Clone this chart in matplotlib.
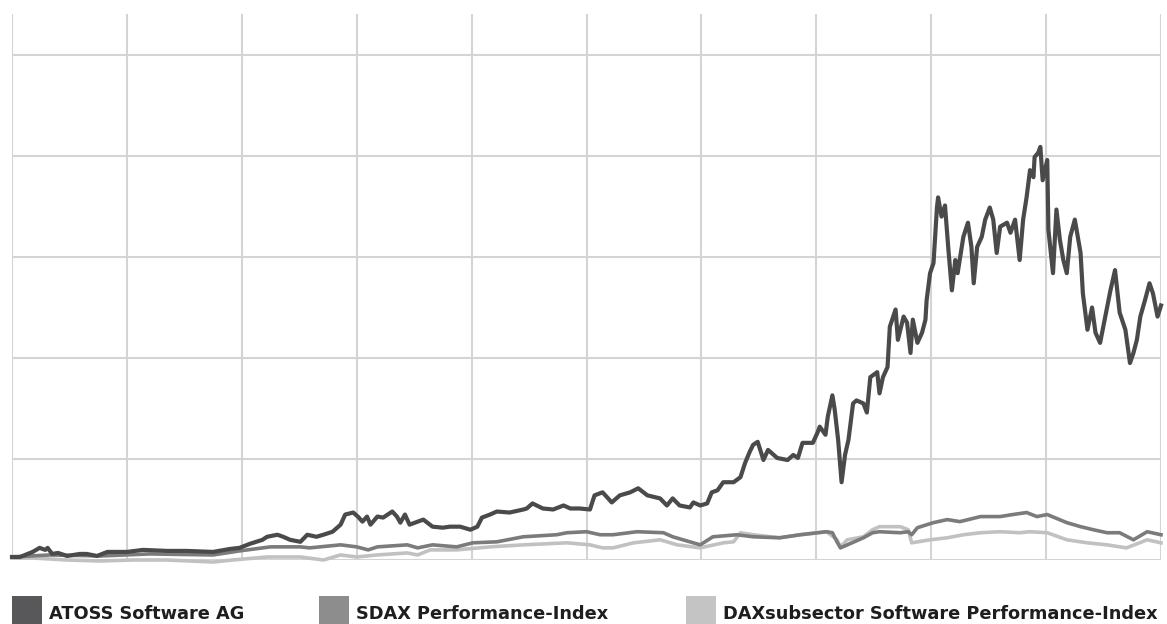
#!/usr/bin/env python3

"""Share price performance of ATOSS vs. SDAX and DAXsubsector Software."""

import matplotlib as mpl

mpl.use("Agg")

import matplotlib.pyplot as plt
from matplotlib.patches import Rectangle

# Years since start of the period, relative performance (index points)
atoss_t = [
    0.00, 0.07, 0.18, 0.24, 0.29, 0.31, 0.35, 0.40, 0.48, 0.59, 0.65, 0.74,
    0.83, 1.00, 1.14, 1.35, 1.52, 1.75, 1.90, 1.98, 2.07, 2.18, 2.22, 2.31,
    2.36, 2.42, 2.51, 2.57, 2.65, 2.71, 2.79, 2.86, 2.90, 2.97, 3.01, 3.05,
    3.09, 3.12, 3.18, 3.23, 3.31, 3.35, 3.38, 3.42, 3.46, 3.58, 3.66, 3.75,
    3.81, 3.90, 3.99, 4.05, 4.09, 4.16, 4.22, 4.33, 4.45, 4.48, 4.53, 4.62,
    4.71, 4.80, 4.86, 4.94, 5.03, 5.07, 5.14, 5.22, 5.29, 5.38, 5.45, 5.53,
    5.64, 5.70, 5.75, 5.81, 5.90, 5.93, 5.99, 6.05, 6.09, 6.14, 6.19, 6.28,
    6.34, 6.38, 6.42, 6.45, 6.49, 6.54, 6.58, 6.66, 6.75, 6.80, 6.84, 6.88,
    6.97, 7.01, 7.03, 7.08, 7.10, 7.14, 7.16, 7.19, 7.22, 7.25, 7.28, 7.32,
    7.35, 7.41, 7.44, 7.47, 7.53, 7.55, 7.58, 7.62, 7.64, 7.69, 7.71, 7.76,
    7.79, 7.82, 7.84, 7.88, 7.92, 7.95, 7.96, 7.99, 8.02, 8.05, 8.06, 8.09,
    8.12, 8.15, 8.18, 8.21, 8.23, 8.28, 8.32, 8.35, 8.37, 8.40, 8.44, 8.47,
    8.51, 8.54, 8.57, 8.60, 8.66, 8.69, 8.73, 8.77, 8.80, 8.83, 8.86, 8.89,
    8.90, 8.93, 8.95, 8.97, 9.01, 9.02, 9.06, 9.09, 9.12, 9.15, 9.18, 9.21,
    9.25, 9.30, 9.32, 9.36, 9.40, 9.43, 9.47, 9.51, 9.56, 9.60, 9.64, 9.69,
    9.73, 9.76, 9.79, 9.82, 9.86, 9.90, 9.93, 9.97, 10.0,
]
atoss_v = [
    3, 3, 8, 12, 10, 12, 6, 7, 4, 6, 6, 4,
    8, 8, 10, 9, 9, 8, 11, 12, 16, 20, 23, 25,
    23, 20, 18, 25, 23, 25, 28, 35, 45, 47, 43, 38,
    43, 35, 43, 42, 48, 43, 37, 45, 35, 40, 33, 32,
    33, 33, 30, 33, 42, 45, 48, 47, 50, 51, 56, 51,
    50, 54, 51, 51, 50, 64, 67, 57, 64, 67, 71, 64,
    61, 54, 61, 54, 52, 57, 54, 56, 67, 69, 77, 77,
    82, 96, 107, 114, 117, 99, 109, 101, 99, 104, 101, 116,
    116, 126, 132, 124, 142, 163, 149, 119, 77, 104, 119, 155,
    158, 155, 146, 181, 186, 165, 181, 191, 231, 248, 218, 241,
    235, 205, 238, 215, 225, 238, 257, 284, 294, 349, 359, 340,
    351, 307, 267, 297, 284, 320, 334, 310, 274, 310, 320, 337,
    349, 337, 304, 330, 334, 324, 337, 297, 337, 359, 386, 379,
    399, 403, 409, 376, 396, 327, 284, 347, 317, 297, 284, 320,
    337, 304, 264, 228, 250, 225, 215, 238, 267, 287, 245, 228,
    195, 205, 218, 241, 257, 274, 264, 241, 252,
]

sdax_t = [
    0.00, 0.33, 0.77, 1.20, 1.75, 1.98, 2.25, 2.51, 2.59, 2.86, 3.00, 3.10,
    3.18, 3.44, 3.53, 3.66, 3.87, 4.01, 4.22, 4.45, 4.74, 4.83, 5.00, 5.12,
    5.23, 5.44, 5.67, 5.75, 5.90, 5.99, 6.10, 6.31, 6.45, 6.68, 6.86, 7.09,
    7.14, 7.18, 7.21, 7.27, 7.41, 7.49, 7.55, 7.73, 7.80, 7.83, 7.88, 8.02,
    8.14, 8.25, 8.43, 8.60, 8.71, 8.83, 8.92, 9.01, 9.18, 9.30, 9.41, 9.53,
    9.64, 9.76, 9.88, 10.0,
]
sdax_v = [
    3, 5, 4, 6, 5, 9, 13, 13, 12, 15, 13, 10,
    13, 15, 12, 15, 13, 17, 18, 23, 25, 27, 28, 25,
    25, 28, 27, 23, 18, 15, 23, 25, 23, 22, 25, 28,
    27, 18, 12, 15, 22, 27, 28, 27, 28, 25, 32, 37,
    40, 38, 43, 43, 45, 47, 43, 45, 37, 33, 30, 27,
    27, 20, 28, 25,
]

software_t = [
    0.00, 0.18, 0.48, 0.77, 1.05, 1.35, 1.75, 1.92, 2.22, 2.51, 2.71, 2.86,
    3.00, 3.18, 3.44, 3.53, 3.64, 3.87, 4.16, 4.45, 4.83, 5.03, 5.14, 5.23,
    5.41, 5.64, 5.79, 5.99, 6.19, 6.28, 6.34, 6.45, 6.68, 6.86, 7.09, 7.18,
    7.21, 7.27, 7.41, 7.49, 7.55, 7.73, 7.80, 7.83, 7.99, 8.14, 8.28, 8.43,
    8.60, 8.77, 8.86, 9.01, 9.18, 9.36, 9.53, 9.70, 9.88, 10.0,
]
software_v = [
    2, 2, 0, -1, 0, 0, -2, 0, 3, 3, 0, 5,
    3, 5, 7, 5, 10, 10, 13, 15, 17, 15, 12, 12,
    17, 20, 15, 12, 17, 18, 27, 25, 22, 25, 28, 20,
    13, 20, 23, 30, 33, 33, 30, 17, 20, 22, 25, 27,
    28, 27, 28, 27, 20, 17, 15, 12, 20, 17,
]

series_names = [
    "ATOSS Software AG",
    "SDAX Performance-Index",
    "DAXsubsector Software Performance-Index",
]
line_colors = ["#4a4a4a", "#7b7b7b", "#c1c1c1"]
key_colors = ["#58585a", "#8d8d8d", "#c4c4c4"]


def main():
    """Entry point."""
    fig = plt.figure(figsize=(11.67, 6.24), dpi=100)
    ax = fig.add_axes([12 / 1167, 64 / 624, 1149 / 1167, 546 / 624])

    # draw back to front so ATOSS sits on top
    ax.plot(software_t, software_v, color=line_colors[2], lw=2.6,
            clip_on=False, zorder=3, solid_joinstyle="round")
    ax.plot(sdax_t, sdax_v, color=line_colors[1], lw=2.6,
            clip_on=False, zorder=4, solid_joinstyle="round")
    ax.plot(atoss_t, atoss_v, color=line_colors[0], lw=3.0,
            clip_on=False, zorder=5, solid_joinstyle="round")

    ax.set_xlim(0, 10)
    ax.set_ylim(0, 540.6)
    ax.set_xticks(range(0, 11))
    ax.set_yticks(range(0, 501, 100))
    ax.grid(True, color="#d4d4d4", lw=1.5, zorder=0)
    ax.set_axisbelow(True)
    ax.tick_params(length=0, labelbottom=False, labelleft=False)
    for s in ax.spines.values():
        s.set_visible(False)

    # legend row along the bottom edge
    key_x = [12, 319, 686]
    for x, name, c in zip(key_x, series_names, key_colors):
        fig.add_artist(Rectangle((x / 1167, 0), 30 / 1167, 28 / 624,
                                 transform=fig.transFigure, color=c, lw=0))
        fig.text((x + 37) / 1167, 5 / 624, name, fontsize=12.8,
                 fontweight="bold", color="#1e1e1e", family="DejaVu Sans",
                 va="baseline", ha="left")

    fig.savefig("out.png", dpi=100)


if __name__ == "__main__":
    main()
